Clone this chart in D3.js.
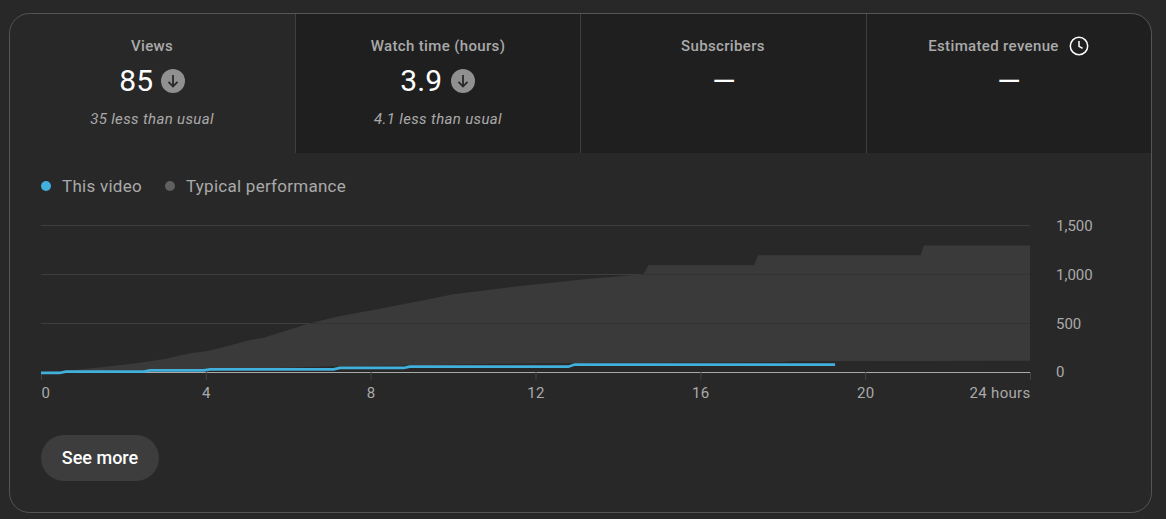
<!DOCTYPE html>
<html><head><meta charset="utf-8">
<script src="https://cdn.jsdelivr.net/npm/d3@7"></script>
<style>
html,body{margin:0;padding:0;background:#282828;overflow:hidden}
svg{display:block;font-family:Roboto,sans-serif}
</style></head><body><div id="c"></div>
<script>
const tabTitles=["Views","Watch time (hours)","Subscribers","Estimated revenue"];
const tabValues=["85","3.9","—","—"];
const tabNotes=["35 less than usual","4.1 less than usual","",""];
const legendLabels=["This video","Typical performance"];
const xTicks=[0,4,8,12,16,20,24];
const yTicks=[0,500,1000,1500];
const upperHours=[0,0.55,1.43,2.4,3,3.62,4.03,4.26,5.07,5.4,6.53,7.26,8.06,9.2,10,11.63,13.25,14.62,14.74,17.3,17.4,21.35,21.42,24];
const upperValues=[0,12,48,96,135,192,216,236,328,352,499,574,635,727,795,880,952,1000,1092,1092,1195,1195,1295,1295];
const lowerHours=[0,4,6,7,9,11,13.6,18,18.2,24];
const lowerValues=[0,30,45,60,68,85,95,102,112,116];
const videoHours=[0,0.45,0.6,2.5,2.65,3.95,4.1,7.1,7.25,8.8,8.95,12.8,12.95,19.27];
const videoValues=[0,0,13,13,26,26,36,36,51,51,64,64,85,85];

const W=1166,H=519;
const svg=d3.select("#c").append("svg").attr("width",W).attr("height",H);
const x=d3.scaleLinear().domain([0,24]).range([41,1030]);
const y=d3.scaleLinear().domain([0,1500]).range([372.1,225.4]);

// card
const cardPath="M9.5 33.5a20 20 0 0 1 20-20H1131.5a20 20 0 0 1 20 20V492.5a20 20 0 0 1-20 20H29.5a20 20 0 0 1-20-20Z";
const defs=svg.append("defs");
defs.append("clipPath").attr("id","card").append("path").attr("d",cardPath);
const hdr=svg.append("g").attr("clip-path","url(#card)");
const tabEdges=[9.5,295.5,580.5,866.5,1152];
hdr.selectAll("rect").data(tabTitles).join("rect")
  .attr("x",(d,i)=>tabEdges[i]).attr("y",13).attr("width",(d,i)=>tabEdges[i+1]-tabEdges[i]).attr("height",140)
  .attr("fill",(d,i)=>i===0?"#282828":"#1f1f1f");
hdr.selectAll("line").data(tabEdges.slice(1,4)).join("line")
  .attr("x1",d=>d).attr("x2",d=>d).attr("y1",13).attr("y2",153).attr("stroke","#3f3f3f");
svg.append("path").attr("d",cardPath).attr("fill","none").attr("stroke","#555");

// tabs
const tabCenters=[152,438,723.5,1009];
const titleX=[152,438,723,993.5];
svg.selectAll(".tt").data(tabTitles).join("text").attr("class","tt")
  .attr("x",(d,i)=>titleX[i]).attr("y",51).attr("text-anchor","middle")
  .attr("font-size",15).attr("letter-spacing",0.35).attr("font-weight",500).attr("fill","#aaa").text(d=>d);
const valueX=[153,442,724,1009], valueAnchor=["end","end","middle","middle"];
svg.selectAll(".tv").data(tabValues).join("text").attr("class","tv")
  .attr("x",(d,i)=>valueX[i]).attr("y",91).attr("text-anchor",(d,i)=>valueAnchor[i])
  .attr("font-size",30).attr("fill","#fff").text(d=>d);
svg.selectAll(".tn").data(tabNotes).join("text").attr("class","tn")
  .attr("x",(d,i)=>tabCenters[i]).attr("y",123.6).attr("text-anchor","middle")
  .attr("font-size",15).attr("letter-spacing",0.35).attr("font-style","italic").attr("fill","#aaa").text(d=>d);
[[173,81],[463,81]].forEach(([cx,cy])=>{
  const g=svg.append("g").attr("transform",`translate(${cx},${cy})`);
  g.append("circle").attr("r",12).attr("fill","#909090");
  g.append("path").attr("d","M0-6V5M-4.5 0.8L0 5.5L4.5 0.8").attr("fill","none").attr("stroke","#282828").attr("stroke-width",1.8);
});
const clock=svg.append("g").attr("transform","translate(1079,46)").attr("fill","none").attr("stroke","#fff");
clock.append("circle").attr("r",8.7).attr("stroke-width",1.5);
clock.append("path").attr("d","M0-5V0.3L3.6 2.4").attr("stroke-width",1.5);

// legend
const legendDotX=[46,170], legendColors=["#41b0dc","#606060"];
svg.selectAll(".ld").data(legendLabels).join("circle").attr("class","ld")
  .attr("cx",(d,i)=>legendDotX[i]).attr("cy",186).attr("r",5).attr("fill",(d,i)=>legendColors[i]);
svg.selectAll(".lt").data(legendLabels).join("text").attr("class","lt")
  .attr("x",(d,i)=>legendDotX[i]+16).attr("y",192).attr("font-size",17).attr("letter-spacing",0.26).attr("fill","#aaa").text(d=>d);

// band + grid
const merged=d3.sort(Array.from(new Set(upperHours.concat(lowerHours))));
const itp=(xs,ys)=>d3.scaleLinear().domain(xs).range(ys);
const upAt=itp(upperHours,upperValues), loAt=itp(lowerHours,lowerValues);
const area=d3.area().x(d=>x(d)).y0(d=>y(loAt(d))).y1(d=>y(upAt(d)));
const gridVals=yTicks.filter(d=>d>0);
const grid=(sel,col)=>sel.selectAll("line").data(gridVals).join("line")
  .attr("x1",x(0)).attr("x2",x(24)).attr("y1",d=>Math.round(y(d))+.5).attr("y2",d=>Math.round(y(d))+.5).attr("stroke",col);
svg.append("g").call(grid,"#3e3e3e");
svg.append("path").datum(merged).attr("d",area).attr("fill","#3a3a3a");
defs.append("clipPath").attr("id","band").append("path").datum(merged).attr("d",area);
svg.append("g").attr("clip-path","url(#band)").call(grid,"#333");

// axes
const xAxis=d3.axisBottom(x).tickValues(xTicks).tickSize(8).tickSizeOuter(0).tickPadding(7)
  .tickFormat(d=>d===24?"24 hours":d);
const gx=svg.append("g").attr("transform","translate(0,372)").call(xAxis);
gx.select(".domain").attr("stroke","#aaa");
gx.selectAll(".tick line").attr("stroke","#444");
gx.selectAll("text").attr("font-size",15).attr("letter-spacing",0.3).attr("font-family","Roboto").attr("fill","#aaa")
  .attr("text-anchor",d=>d===0?"start":d===24?"end":"middle");
const yAxis=d3.axisRight(y).tickValues(yTicks).tickSize(0).tickPadding(26).tickFormat(d3.format(","));
const gy=svg.append("g").attr("transform","translate(1030,0)").call(yAxis);
gy.select(".domain").remove();
gy.selectAll("text").attr("font-size",15).attr("font-family","Roboto").attr("fill","#aaa");

// video line
const line=d3.line().x((d,i)=>x(videoHours[i])).y(d=>y(d)+0.8);
svg.append("path").datum(videoValues).attr("d",line).attr("fill","none")
  .attr("stroke","#41b0dc").attr("stroke-width",2.6);

// button
svg.append("rect").attr("x",41).attr("y",435).attr("width",118).attr("height",46).attr("rx",23).attr("fill","#3d3d3d");
svg.append("text").attr("x",100).attr("y",463.5).attr("text-anchor","middle").attr("font-size",18)
  .attr("font-weight",500).attr("fill","#fff").text("See more");
</script></body></html>
